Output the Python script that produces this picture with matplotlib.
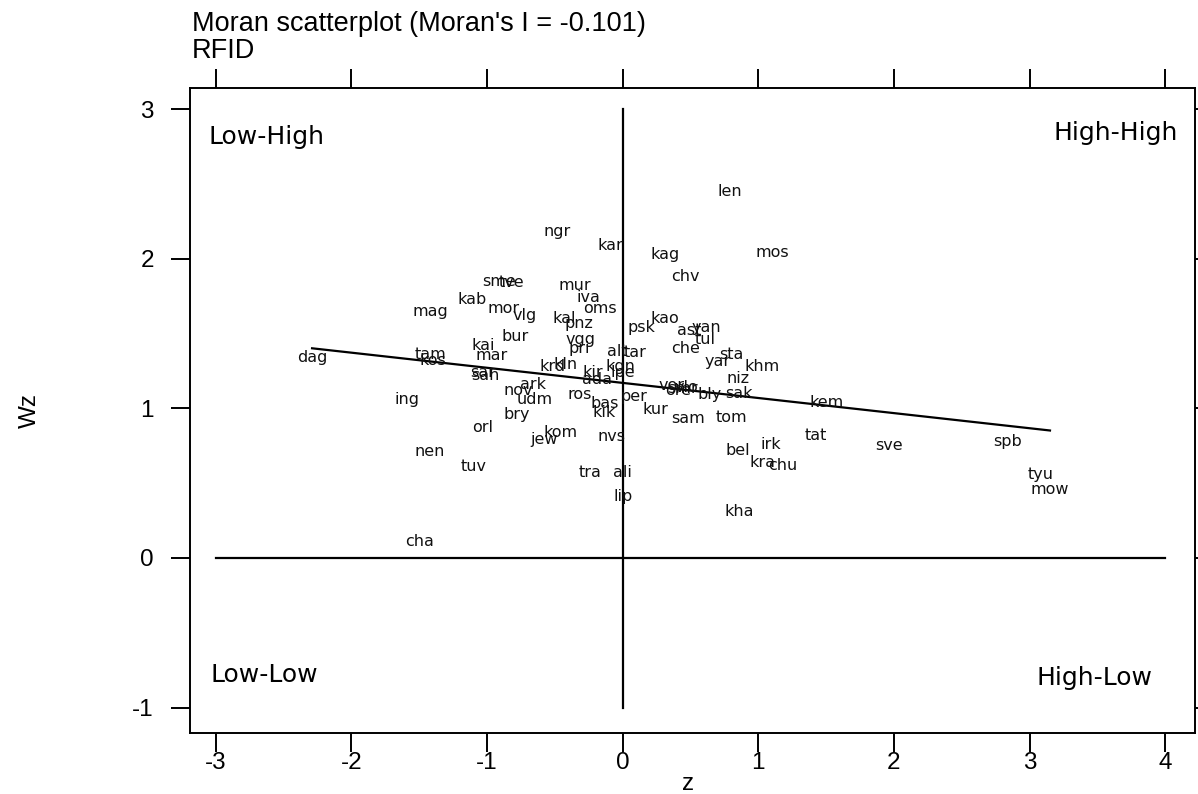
import matplotlib
matplotlib.use("Agg")
import matplotlib.pyplot as plt
import numpy as np

# region codes and their (z, Wz) positions
codes = ["len", "ngr", "kar", "kag", "mos", "chv", "sme", "tve", "mur", "kab",
         "iva", "mag", "mor", "vlg", "oms", "kal", "pnz", "psk", "kao", "ast",
         "yan", "tul", "che", "bur", "vgg", "pri", "kai", "mar", "tam", "kos",
         "sar", "sah", "alt", "tar", "khm", "sta", "yar", "niz", "sak", "bly",
         "ore", "vlo", "kem", "krd", "kln", "kir", "kgn", "lpe", "nov", "ark",
         "udm", "ros", "bas", "kik", "per", "kur", "sam", "tom", "ing", "bry",
         "orl", "kom", "jew", "nvs", "nen", "tuv", "tra", "ali", "lip", "bel",
         "irk", "kra", "chu", "tat", "sve", "spb", "tyu", "mow", "kha", "cha",
         "dag", "ada", "vor", "smr"]
z = [0.79, -0.48, -0.09, 0.31, 1.10, 0.46, -0.91, -0.82, -0.35, -1.11,
     -0.25, -1.42, -0.88, -0.72, -0.17, -0.43, -0.32, 0.14, 0.31, 0.49,
     0.62, 0.61, 0.46, -0.79, -0.31, -0.32, -1.03, -0.97, -1.42, -1.40,
     -1.03, -1.01, -0.04, 0.09, 1.03, 0.80, 0.70, 0.85, 0.86, 0.64,
     0.41, 0.47, 1.50, -0.52, -0.42, -0.22, -0.02, 0.00, -0.77, -0.66,
     -0.65, -0.32, -0.13, -0.14, 0.08, 0.24, 0.48, 0.80, -1.59, -0.78,
     -1.03, -0.46, -0.58, -0.08, -1.42, -1.10, -0.24, 0.00, 0.00, 0.85,
     1.09, 1.03, 1.18, 1.42, 1.96, 2.84, 3.08, 3.15, 0.86, -1.50,
     -2.29, -0.19, 0.36, 0.44]
wz = [2.45, 2.18, 2.09, 2.03, 2.04, 1.88, 1.85, 1.84, 1.82, 1.73,
      1.74, 1.65, 1.67, 1.62, 1.67, 1.60, 1.57, 1.54, 1.60, 1.52,
      1.54, 1.46, 1.40, 1.48, 1.46, 1.40, 1.42, 1.35, 1.36, 1.32,
      1.24, 1.22, 1.38, 1.37, 1.28, 1.36, 1.31, 1.20, 1.10, 1.09,
      1.12, 1.14, 1.04, 1.28, 1.29, 1.24, 1.28, 1.24, 1.12, 1.16,
      1.06, 1.09, 1.03, 0.97, 1.08, 0.99, 0.93, 0.94, 1.06, 0.96,
      0.87, 0.84, 0.79, 0.81, 0.71, 0.61, 0.57, 0.57, 0.41, 0.72,
      0.76, 0.64, 0.62, 0.82, 0.75, 0.78, 0.56, 0.46, 0.31, 0.11,
      1.34, 1.19, 1.15, 1.13]

moran_i = -0.101
intercept = 1.17
xticks = [-3, -2, -1, 0, 1, 2, 3, 4]
yticks = [-1, 0, 1, 2, 3]

plt.rcParams['font.family'] = ['Liberation Sans', 'DejaVu Sans']
plt.rcParams['axes.unicode_minus'] = False

fig = plt.figure(figsize=(11.98, 7.94), dpi=100)
ax = fig.add_axes([0.1586, 0.0768, 0.839, 0.8122])

ax.set_xlim(-3.19, 4.22)
ax.set_ylim(-1.17, 3.14)

# quadrant axes
ax.plot([-3, 4], [0, 0], color="black", lw=1.6)
ax.plot([0, 0], [-1, 3], color="black", lw=1.6)

# fitted line with slope = Moran's I
zz = np.array([min(z), max(z)])
ax.plot(zz, intercept + moran_i * zz, color="black", lw=1.6)

for c, x, y in zip(codes, z, wz):
    ax.text(x, y, c, ha="center", va="center", fontsize=11.5,
            family="DejaVu Sans", color="#111111")

qkw = dict(transform=ax.transAxes, fontsize=18, family="DejaVu Sans")
ax.text(0.018, 0.925, "Low-High", ha="left", va="center", **qkw)
ax.text(0.983, 0.931, "High-High", ha="right", va="center", **qkw)
ax.text(0.020, 0.090, "Low-Low", ha="left", va="center", **qkw)
ax.text(0.958, 0.085, "High-Low", ha="right", va="center", **qkw)

ax.set_xticks(xticks)
ax.set_yticks(yticks)
ax.tick_params(axis="both", direction="out", length=14, width=1.4,
               labelsize=17.5, top=True, right=True, labeltop=False, labelright=False)
ax.tick_params(axis="x", pad=0)
ax.tick_params(axis="y", pad=12)
for s in ax.spines.values():
    s.set_linewidth(1.4)

ax.set_ylabel("Wz", fontsize=17.5)
ax.yaxis.set_label_coords(-0.148, 0.5)
fig.text(0.5745, 0.012, "z", fontsize=17.5, ha="center", va="center")

fig.text(0.160, 0.970, "Moran scatterplot (Moran's I = -0.101)", fontsize=19.5,
         ha="left", va="center")
fig.text(0.160, 0.936, "RFID", fontsize=19.5, ha="left", va="center")

fig.savefig("out.png", dpi=100)
